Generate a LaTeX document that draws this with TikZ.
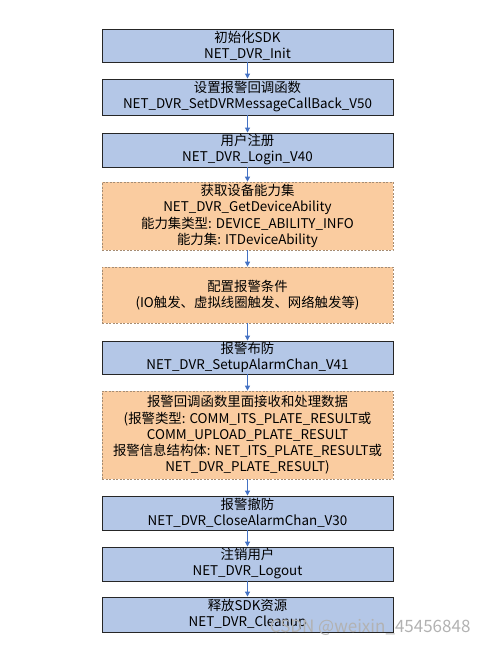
\documentclass[tikz,border=0pt]{standalone}
\usepackage{fontspec}
\setmainfont{Noto Sans CJK SC}
\usetikzlibrary{arrows.meta}

\definecolor{boxblue}{RGB}{180,199,231}
\definecolor{boxorange}{RGB}{250,204,160}
\definecolor{dashbrown}{RGB}{165,140,115}
\definecolor{linkblue}{RGB}{68,114,196}

\begin{document}
\begin{tikzpicture}
	[x=1pt,y=-1pt,
	 apibox/.style={draw=black!85, fill=boxblue, line width=0.9pt, minimum width=291pt,
		align=center, inner sep=0pt, font=\fontsize{13.4}{16}\selectfont},
	 cfgbox/.style={draw=dashbrown, fill=boxorange, line width=0.7pt, dash pattern=on 2pt off 1.5pt,
		minimum width=291pt, align=center, inner sep=0pt, font=\fontsize{13.4}{16.3}\selectfont},
	 link/.style={linkblue, line width=1pt, -{Triangle[length=5pt,width=5pt]}}]
	\useasboundingbox (0,0) rectangle (490,647);
	% boxes
	\node[apibox, minimum height=33pt] (init) at (247.5,45.5) {初始化SDK\\NET\_DVR\_Init};
	\node[apibox, minimum height=36pt] (callback) at (247.5,97) {设置报警回调函数\\NET\_DVR\_SetDVRMessageCallBack\_V50};
	\node[apibox, minimum height=34pt] (login) at (247.5,150) {用户注册\\NET\_DVR\_Login\_V40};
	\node[cfgbox, minimum height=68pt] (ability) at (247.5,216) {获取设备能力集\\NET\_DVR\_GetDeviceAbility\\能力集类型: DEVICE\_ABILITY\_INFO\\能力集: ITDeviceAbility};
	\node[cfgbox, minimum height=56pt] (trigger) at (247.5,295) {配置报警条件\\(IO触发、虚拟线圈触发、网络触发等)};
	\node[apibox, minimum height=33pt] (setup) at (247.5,357.5) {报警布防\\NET\_DVR\_SetupAlarmChan\_V41};
	\node[cfgbox, minimum height=88pt] (handle) at (247.5,435) {报警回调函数里面接收和处理数据\\(报警类型: COMM\_ITS\_PLATE\_RESULT或\\COMM\_UPLOAD\_PLATE\_RESULT\\报警信息结构体: NET\_ITS\_PLATE\_RESULT或\\NET\_DVR\_PLATE\_RESULT)};
	\node[apibox, minimum height=34pt] (close) at (247.5,513) {报警撤防\\NET\_DVR\_CloseAlarmChan\_V30};
	\node[apibox, minimum height=34pt] (logout) at (247.5,564) {注销用户\\NET\_DVR\_Logout};
	\node[apibox, minimum height=35pt] (cleanup) at (247.5,614.5) {释放SDK资源\\NET\_DVR\_Cleanup};
	% arrows
	\foreach \a/\b in {init/callback, callback/login, login/ability, ability/trigger,
		trigger/setup, setup/handle, handle/close, close/logout, logout/cleanup}
		\draw[link] (\a) -- (\b);
	% watermark
	\node[anchor=east, text=gray!60, font=\fontsize{17}{17}\selectfont] (mark) at (474,627) {CSDN @weixin\_45456848};
\end{tikzpicture}
\end{document}
